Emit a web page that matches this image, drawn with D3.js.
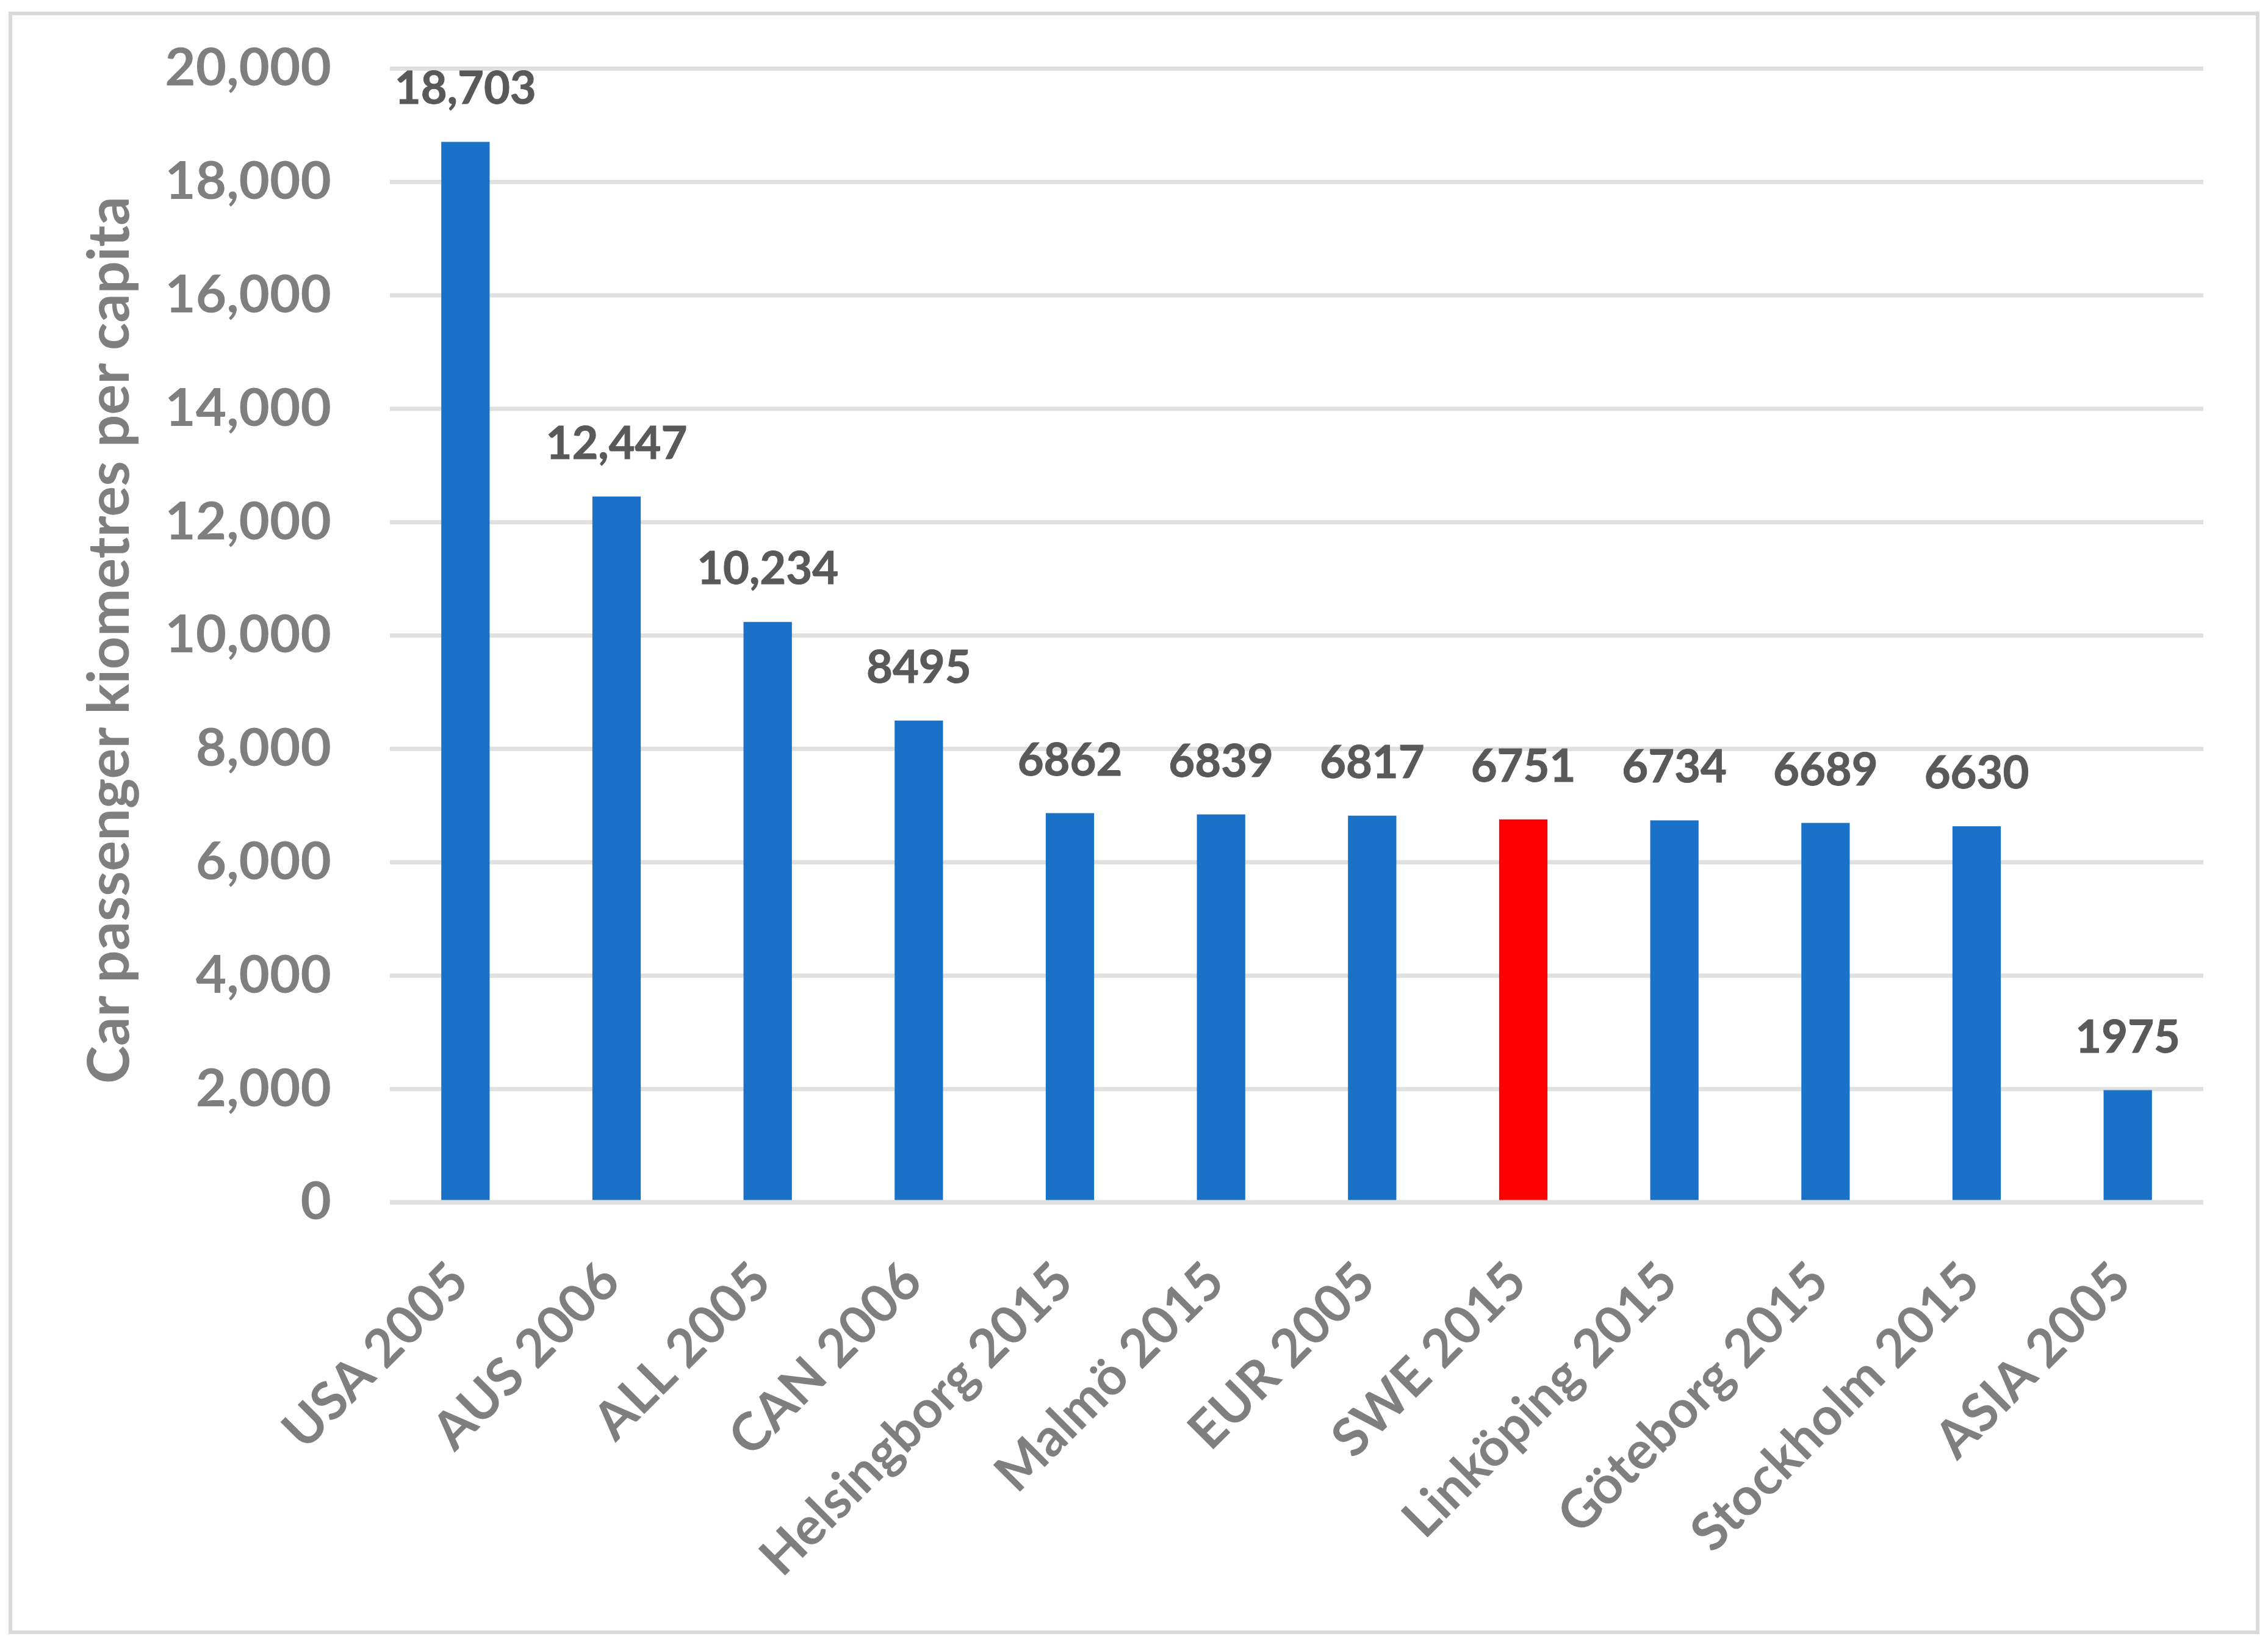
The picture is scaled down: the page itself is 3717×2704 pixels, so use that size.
<!DOCTYPE html>
<html>
<head>
<meta charset="utf-8">
<script src="https://cdn.jsdelivr.net/npm/d3@7"></script>
<style>
  body { margin: 0; background: #fff; }
  text { font-family: Lato, "Open Sans", sans-serif; font-weight: bold; }
</style>
</head>
<body>
<svg class="chart"></svg>
<script>
var categories = ['USA 2005', 'AUS 2006', 'ALL 2005', 'CAN 2006', 'Helsingborg 2015', 'Malmö 2015',
  'EUR 2005', 'SWE 2015', 'Linköping 2015', 'Göteborg 2015', 'Stockholm 2015', 'ASIA 2005'];
var values = [18703, 12447, 10234, 8495, 6862, 6839, 6817, 6751, 6734, 6689, 6630, 1975];
var valueLabels = ['18,703', '12,447', '10,234', '8495', '6862', '6839', '6817', '6751', '6734', '6689', '6630', '1975'];
var highlight = ['SWE 2015'];
var yTicks = [0, 2000, 4000, 6000, 8000, 10000, 12000, 14000, 16000, 18000, 20000];
var yTitle = 'Car passenger kiometres per capita';

var width = 3717, height = 2704;
var plot = { left: 639, right: 3611, top: 112, bottom: 1970 };

var svg = d3.select('.chart')
  .attr('width', width)
  .attr('height', height);

// chart border
svg.append('rect')
  .attr('x', 17).attr('y', 22)
  .attr('width', 3683).attr('height', 2653)
  .attr('fill', '#fff')
  .attr('stroke', '#d9d9d9')
  .attr('stroke-width', 6);

var x = d3.scaleBand()
  .domain(categories)
  .range([plot.left, plot.right])
  .paddingInner(0.68)
  .paddingOuter(0.34);

var y = d3.scaleLinear()
  .domain([0, 20000])
  .range([plot.bottom, plot.top]);

// gridlines + tick labels
var yAxis = d3.axisLeft(y)
  .tickValues(yTicks)
  .tickFormat(d3.format(','))
  .tickSize(-(plot.right - plot.left))
  .tickPadding(96);

var ga = svg.append('g')
  .attr('transform', 'translate(' + plot.left + ',0)')
  .call(yAxis);
ga.select('.domain').remove();
ga.selectAll('.tick line')
  .attr('stroke', '#e0e0e0')
  .attr('stroke-width', 7);
ga.selectAll('.tick text')
  .attr('fill', '#7f7f7f')
  .attr('font-size', 87)
  .attr('font-family', 'Lato, sans-serif')
  .attr('font-weight', 'bold');

// bars
svg.append('g')
  .selectAll('rect')
  .data(values)
  .enter()
  .append('rect')
  .attr('x', function(d, i) { return x(categories[i]); })
  .attr('y', function(d) { return y(d); })
  .attr('width', x.bandwidth())
  .attr('height', function(d) { return y(0) - y(d); })
  .attr('fill', function(d, i) {
    return highlight.indexOf(categories[i]) >= 0 ? '#ff0000' : '#1a71c8';
  });

// axis line on top
svg.append('line')
  .attr('x1', plot.left).attr('x2', plot.right)
  .attr('y1', y(0)).attr('y2', y(0))
  .attr('stroke', '#e0e0e0')
  .attr('stroke-width', 7);

// data labels
svg.append('g')
  .selectAll('text')
  .data(values)
  .enter()
  .append('text')
  .attr('x', function(d, i) { return x(categories[i]) + x.bandwidth() / 2; })
  .attr('y', function(d) { return y(d) - 62; })
  .attr('text-anchor', 'middle')
  .attr('fill', '#595959')
  .attr('font-size', 74)
  .attr('stroke', '#595959')
  .attr('stroke-width', 1)
  .text(function(d, i) { return valueLabels[i]; });

// category labels
svg.append('g')
  .selectAll('text')
  .data(categories)
  .enter()
  .append('text')
  .attr('transform', function(d) {
    return 'translate(' + (x(d) + x.bandwidth() / 2 + 10) + ',2105) rotate(-45)';
  })
  .attr('text-anchor', 'end')
  .attr('fill', '#7f7f7f')
  .attr('font-size', 86)
  .text(function(d) { return d; });

// y axis title
var title = svg.append('text')
  .attr('transform', 'translate(211,' + ((plot.top + plot.bottom) / 2 + 8) + ') rotate(-90)')
  .attr('text-anchor', 'middle')
  .attr('fill', '#7f7f7f')
  .attr('font-size', 88)
  .text(yTitle);
var len = title.node().getComputedTextLength();
title.attr('font-size', 88 * 1454 / len);
</script>
</body>
</html>
